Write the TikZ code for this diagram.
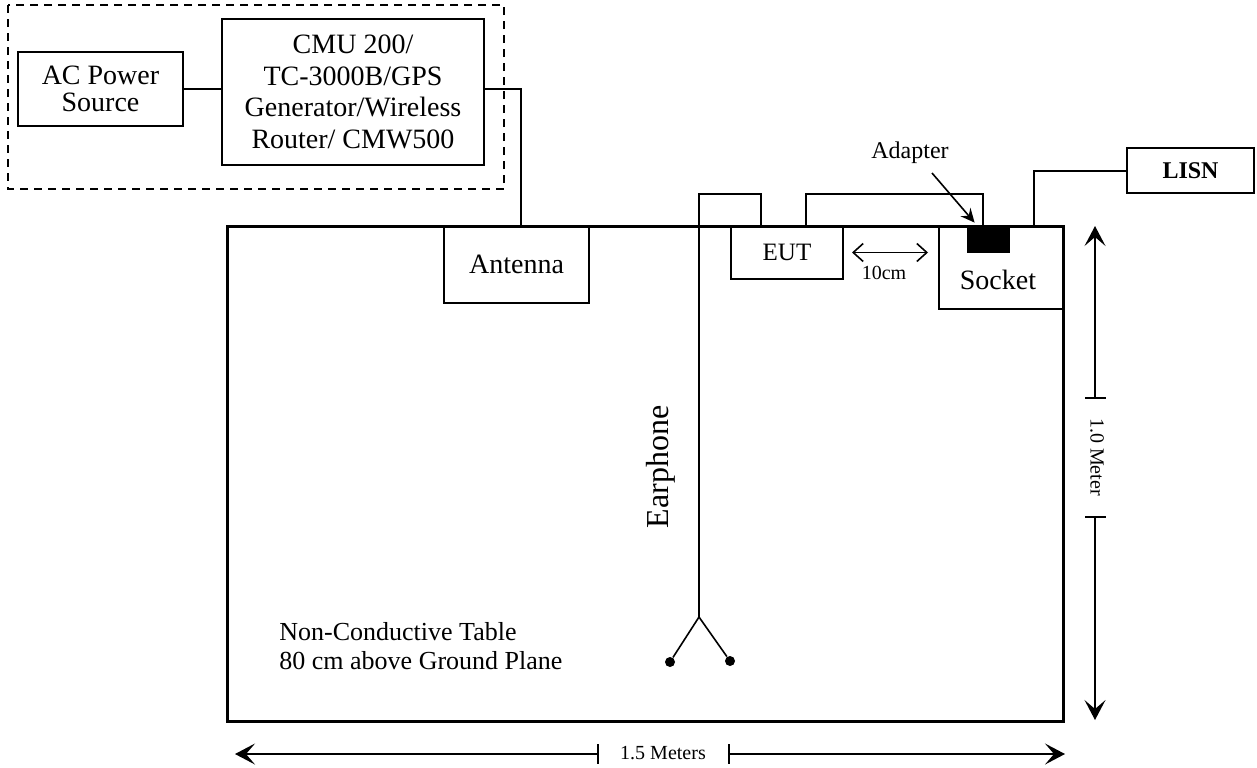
\documentclass[tikz,border=0pt]{standalone}
\usepackage{fontspec}
\setmainfont{Liberation Serif}
\usetikzlibrary{arrows.meta}
\begin{document}
\begin{tikzpicture}[x=0.5pt,y=-0.5pt,
  box/.style={draw, line width=1pt, inner sep=0pt, align=center, font=\fontsize{14}{15.5}\selectfont},
  wire/.style={line width=1pt},
  thinwire/.style={line width=0.8pt},
  dim/.style={line width=0.8pt},
  bigtip/.style={-{Stealth[length=10pt,width=10.5pt,inset=4.5pt]}},
  dot/.style={circle, fill=black, inner sep=0pt, minimum size=5pt}]
\useasboundingbox (0,0) rectangle (1257,767);

% dashed frame
\draw[line width=0.75pt, dash pattern=on 4pt off 3pt] (8,5) rectangle (504,189);

% boxes
\node[box, minimum width=82.5pt, minimum height=37pt, font=\fontsize{14}{13.5}\selectfont] (ac) at (100.5,89) {AC Power\\Source};
\node[box, minimum width=131pt, minimum height=73pt, font=\fontsize{14}{15.8}\selectfont] (cmu) at (353,92) {CMU 200/\\TC-3000B/GPS\\Generator/Wireless\\Router/ CMW500};
\node[draw, line width=1.5pt, minimum width=418pt, minimum height=247.5pt, inner sep=0pt] (table) at (645,473.5) {};
\node[box, minimum width=72.5pt, minimum height=38.5pt] (ant) at (516.5,264.5) {Antenna};
\node[box, minimum width=56pt, minimum height=26.5pt, font=\fontsize{12.5}{14}\selectfont] (eut) at (787,252.5) {EUT};
\node[box, minimum width=62pt, minimum height=41.5pt] (socket) at (1001,267.5) {};
\node[font=\fontsize{14}{15.5}\selectfont] (socketlbl) at (998,280) {Socket};
\node[fill=black, draw=black, inner sep=0pt, minimum width=21pt, minimum height=13.5pt] (adapter) at (988,238.5) {};
\node[box, minimum width=63.5pt, minimum height=22.5pt, font=\fontsize{12}{14}\bfseries\selectfont] (lisn) at (1190.5,170.5) {LISN};

% wires
\coordinate (antin) at (521,226);
\draw[wire] (ac.east) -- (cmu.west |- ac.east);
\draw[wire] (cmu.east |- ac.east) -| (antin);

\coordinate (eutout) at (806,226);
\coordinate (adin) at (983,226);
\draw[wire] (eutout) -- (806,194) -| (adin);

\coordinate (lisnin) at (1034,226);
\draw[wire] (lisnin) |- (lisn.west);

% earphone
\coordinate (ephtop) at (761,226);
\coordinate (br) at (699,617);
\node[dot] (dl) at (670,662) {};
\node[dot] (dr) at (730,661) {};
\draw[thinwire] (ephtop) -- (761,194) -| (br);
\draw[thinwire] (br) -- (dl);
\draw[thinwire] (br) -- (dr);
\node[rotate=90, font=\fontsize{16}{18}\selectfont] (eplbl) at (661,467) {Earphone};

% adapter label
\node[font=\fontsize{12}{14}\selectfont, anchor=base] (adlbl) at (910,158) {Adapter};
\coordinate (adtail) at (932,173);
\draw[line width=0.8pt, -{Stealth[length=7pt,width=6.5pt,inset=2.5pt]}] (adtail) -- ([xshift=4pt,yshift=1pt]adapter.north west);

% 10cm
\draw[line width=0.8pt, {Straight Barb[length=5pt,width=9pt]}-{Straight Barb[length=5pt,width=9pt]}] ([xshift=4pt]eut.east) -- ([xshift=-5pt]socket.west |- eut.east);
\node[font=\fontsize{10}{12}\selectfont] (cmlbl) at (884,273) {10cm};

% table text
\node[anchor=north west, inner sep=0pt, align=left, font=\fontsize{13}{14.5}\selectfont] (tbllbl) at (279,622) {Non-Conductive Table\\80 cm above Ground Plane};

% vertical dimension
\coordinate (vt1) at (1095,398);
\coordinate (vt2) at (1095,517);
\draw[dim, bigtip] (vt1) -- (1095,226);
\draw[dim, bigtip] (vt2) -- (1095,720);
\draw[dim] (1085,398) -- (1106,398);
\draw[dim] (1085,517) -- (1106,517);
\node[rotate=-90, font=\fontsize{10}{12}\selectfont] (vlbl) at (1097,457) {1.0 Meter};

% horizontal dimension
\coordinate (ht1) at (598,754);
\coordinate (ht2) at (729,754);
\draw[dim, bigtip] (ht1) -- (235,754);
\draw[dim, bigtip] (ht2) -- (1065,754);
\draw[dim] (598,744) -- (598,764);
\draw[dim] (729,744) -- (729,764);
\node[font=\fontsize{10}{12}\selectfont] (hlbl) at (663,753) {1.5 Meters};
\end{tikzpicture}
\end{document}
